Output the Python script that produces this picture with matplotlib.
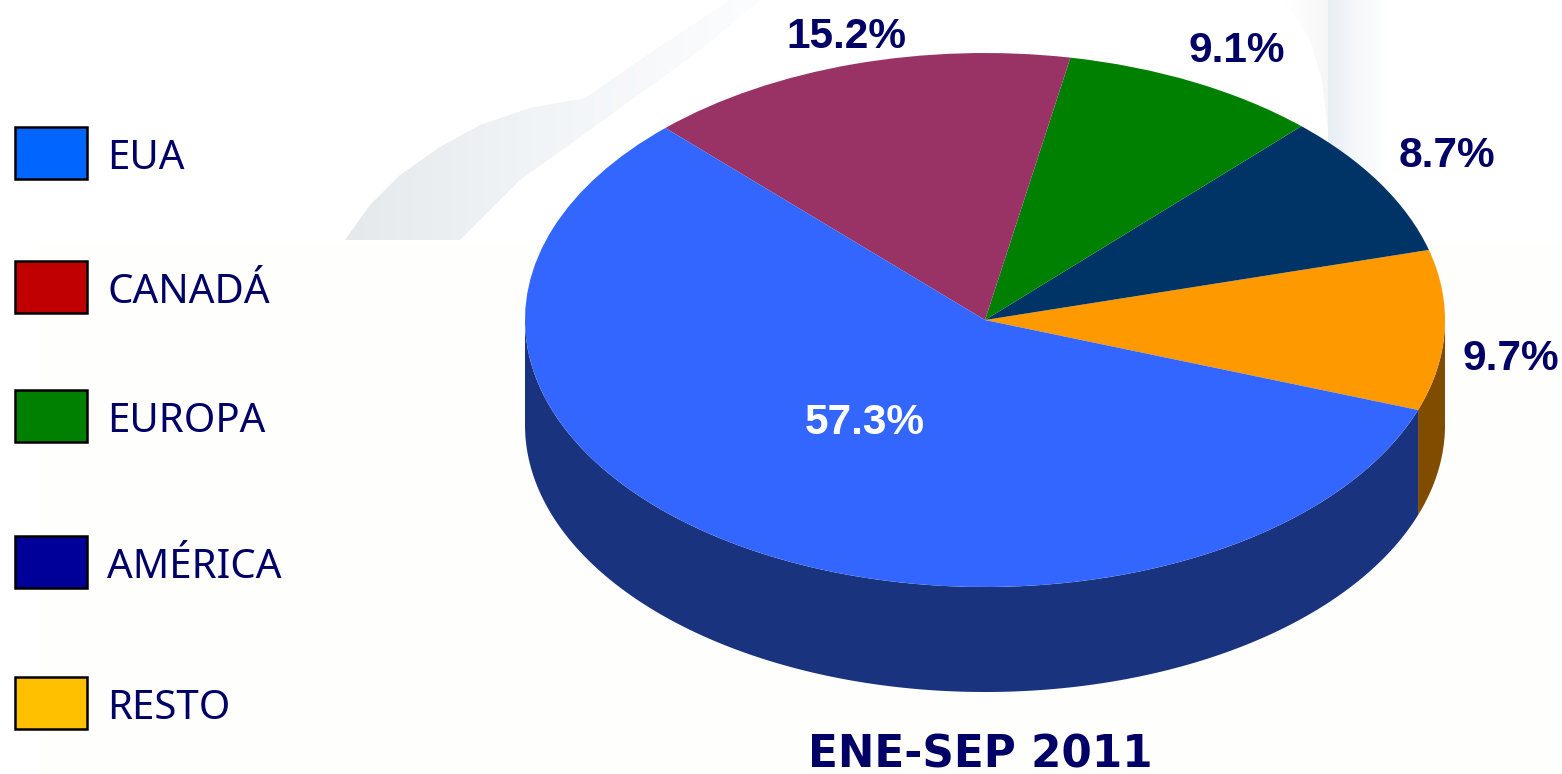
import numpy as np
import matplotlib
matplotlib.use("Agg")
import matplotlib.pyplot as plt
from matplotlib.colors import LinearSegmentedColormap
from matplotlib.patches import Rectangle, Polygon

# slices, counter clockwise starting from the orange one
pie_labels = ["9.7%", "8.7%", "9.1%", "15.2%", "57.3%"]
pie_values = [9.7, 8.7, 9.1, 15.2, 57.3]
pie_colors = ["#FF9900", "#003366", "#008000", "#993366", "#3366FF"]
side_colors = ["#7F4C00", "#001933", "#004000", "#4C1933", "#19337F"]

legend_names = ["EUA", "CANADÁ", "EUROPA", "AMÉRICA", "RESTO"]
legend_colors = ["#0066FF", "#C00000", "#008000", "#000099", "#FFC000"]
legend_y = [153, 287, 416, 562, 703]
legend_h = [52, 52, 52, 52, 52]

title = "ENE-SEP 2011"
navy = "#000066"

W, H = 1562, 774
cx, cy, rx, ry, depth = 985, 320, 460, 267, 105
start = -19.7

fig = plt.figure(figsize=(W / 100, H / 100), dpi=100, facecolor="white")

# pixel axes for the background and legend
bg = fig.add_axes([0, 0, 1, 1])
bg.set_xlim(0, W)
bg.set_ylim(H, 0)
bg.axis("off")

# faint watermark behind everything
bg.add_patch(Rectangle((40, 245), W - 40, H - 245, fc="#FEFEFC", ec="none"))

fade1 = LinearSegmentedColormap.from_list("fade1", ["#E6E9EC", "#F2F5F8", "#FCFDFE"])
fade2 = LinearSegmentedColormap.from_list("fade2", ["#E8EDF4", "#F6F8FB", "#FFFFFF"])

im = bg.imshow(np.linspace(0, 1, 256)[None, :], extent=(345, 760, 240, 0), cmap=fade1,
               aspect="auto", zorder=1)
swoosh = Polygon([(345, 240), (370, 205), (400, 175), (440, 147), (480, 125), (530, 108), (585, 98),
                  (640, 60), (730, 0), (760, 0), (700, 50), (590, 130), (520, 180), (460, 240)],
                 transform=bg.transData, fc="none", ec="none")
bg.add_patch(swoosh)
im.set_clip_path(swoosh)

im2 = bg.imshow(np.linspace(0, 1, 256)[None, :], extent=(1328, 1390, 180, 0), cmap=fade2,
                aspect="auto", zorder=1)
band = Polygon([(1328, 180), (1390, 180), (1390, 0), (1328, 0)], transform=bg.transData,
               fc="none", ec="none")
bg.add_patch(band)
im2.set_clip_path(band)
im3 = bg.imshow(np.linspace(0, 1, 256)[None, :], extent=(1285, 1328, 130, 0), cmap="Greys",
                vmin=0, vmax=14, aspect="auto", zorder=1)
cap = Polygon([(1328, 130), (1322, 80), (1310, 40), (1285, 0), (1328, 0)],
              transform=bg.transData, fc="none", ec="none")
bg.add_patch(cap)
im3.set_clip_path(cap)
bg.set_xlim(0, W)
bg.set_ylim(H, 0)

for name, col, y, h in zip(legend_names, legend_colors, legend_y, legend_h):
    bg.add_patch(Rectangle((14.5, y - h / 2), 72, h, fc=col, ec="black", lw=1.8, zorder=3))
    bg.text(107, y + 16, name, fontsize=29, color=navy, family="Noto Sans", va="baseline",
            ha="left", zorder=3)

bg.text(980, 768, title, fontsize=31.5, color=navy, family="DejaVu Sans", fontweight="bold",
        ha="center", va="baseline", zorder=3)

# pie axes sized to the ellipse so wedges come out squashed
ax = fig.add_axes([(cx - rx) / W, 1 - (cy + ry) / H, 2 * rx / W, 2 * ry / H])
ax.patch.set_alpha(0)

d = depth / ry
edges = start + np.cumsum([0] + pie_values) * 3.6

# side wall of the pie, only the front half shows
for i in range(len(pie_values)):
    a0, a1 = max(edges[i], 180), min(edges[i + 1], 360)
    if edges[i] < 0:
        a0, a1 = edges[i], min(edges[i + 1], 0)
    if a1 <= a0:
        continue
    t = np.radians(np.linspace(a0, a1, 200))
    xs = np.r_[np.cos(t), np.cos(t[::-1])]
    ys = np.r_[np.sin(t), np.sin(t[::-1]) - d]
    ax.add_patch(Polygon(np.c_[xs, ys], fc=side_colors[i], ec="none", clip_on=False))

wedges, _ = ax.pie(pie_values, colors=pie_colors, startangle=start, radius=1, center=(0, 0),
                   frame=True, wedgeprops=dict(lw=0))
ax.set_aspect("auto")
ax.set_xlim(-1, 1)
ax.set_ylim(-1, 1)
ax.axis("off")
for w in wedges:
    w.set_clip_on(False)

# percentage labels, in pixels
label_pos = [(1511, 359), (1447, 156), (1237, 51), (846, 37), (865, 423)]
for lab, (x, y) in zip(pie_labels, label_pos):
    c = "white" if lab == "57.3%" else navy
    fig.text(x / W, 1 - y / H, lab, fontsize=30.5, color=c, family="Liberation Sans",
             fontweight="bold", ha="center", va="center", zorder=10)

fig.savefig("out.png", dpi=100, facecolor="white")
